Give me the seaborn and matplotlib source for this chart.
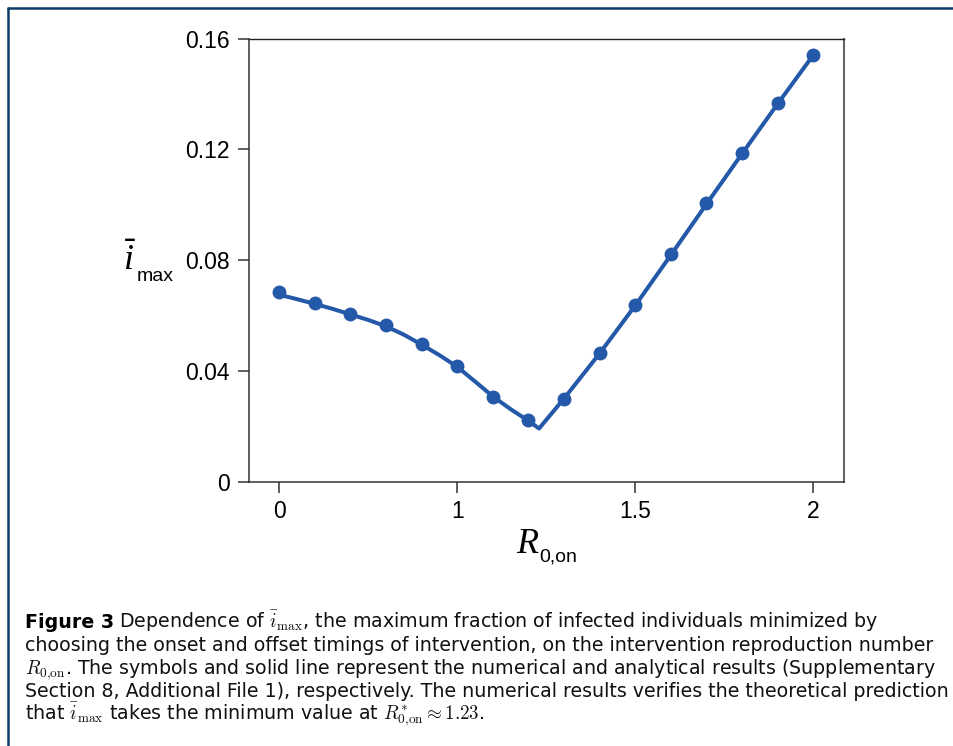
import numpy as np
import pandas as pd
import matplotlib
matplotlib.use("Agg")
import matplotlib.pyplot as plt
from matplotlib.lines import Line2D
import seaborn as sns

# ---- data ----
R_num = [0.0, 0.2, 0.4, 0.6, 0.8, 1.0, 1.1, 1.2, 1.3, 1.4, 1.5, 1.6, 1.7, 1.8, 1.9, 2.0]
i_num = [0.0684, 0.0645, 0.0606, 0.0566, 0.0496, 0.0417, 0.0305, 0.0223, 0.0300,
         0.0465, 0.0638, 0.0822, 0.1005, 0.1187, 0.1366, 0.1542]

R_ana = [0.0, 0.1, 0.2, 0.3, 0.4, 0.5, 0.6, 0.7, 0.8, 0.9, 1.0, 1.05, 1.1, 1.15, 1.2,
         1.23, 1.3, 1.4, 1.5, 1.6, 1.7, 1.8, 1.9, 2.0]
i_ana = [0.0675, 0.0659, 0.0642, 0.0624, 0.0604, 0.0584, 0.0561, 0.0531, 0.0495, 0.0457,
         0.0415, 0.0362, 0.0308, 0.0262, 0.0220, 0.0192, 0.0300, 0.0463, 0.0636, 0.0818,
         0.1002, 0.1184, 0.1364, 0.1540]

x_ticks = [0, 1, 1.5, 2]
x_tick_labels = ["0", "1", "1.5", "2"]
y_ticks = [0, 0.04, 0.08, 0.12, 0.16]
y_tick_labels = ["0", "0.04", "0.08", "0.12", "0.16"]

caption_bold = "Figure 3"
caption_lines = [
    r"Dependence of $\bar{i}_{\max}$, the maximum fraction of infected individuals minimized by",
    r"choosing the onset and offset timings of intervention, on the intervention reproduction number",
    r"$R_{0{,}\mathrm{on}}$. The symbols and solid line represent the numerical and analytical results (Supplementary",
    r"Section 8, Additional File 1), respectively. The numerical results verifies the theoretical prediction",
    r"that $\bar{i}_{\max}$ takes the minimum value at $R^{*}_{0{,}\mathrm{on}} \approx 1.23$.",
]

df_num = pd.DataFrame({"R": R_num, "i": i_num})
df_ana = pd.DataFrame({"R": R_ana, "i": i_ana})

# ---- style ----
sns.set_style("ticks")
plt.rcParams["font.family"] = ["Liberation Sans", "DejaVu Sans"]
plt.rcParams["mathtext.fontset"] = "custom"
plt.rcParams["mathtext.it"] = "Liberation Serif:italic"
plt.rcParams["mathtext.rm"] = "Liberation Sans"
plt.rcParams["mathtext.bf"] = "Liberation Sans:bold"
plt.rcParams["text.color"] = "black"
plt.rcParams["axes.labelcolor"] = "black"

W, H = 954, 746
fig = plt.figure(figsize=(W / 100, H / 100), dpi=100)
fig.patch.set_facecolor("white")

ax_l, ax_r, ax_t, ax_b = 248.7, 844.0, 38.5, 481.7
ax = fig.add_axes([ax_l / W, 1 - ax_b / H, (ax_r - ax_l) / W, (ax_b - ax_t) / H])

blue = "#2458A8"
sns.lineplot(data=df_ana, x="R", y="i", ax=ax, color=blue, linewidth=2.9, sort=True)
sns.lineplot(data=df_num, x="R", y="i", ax=ax, color=blue, linestyle="none",
             marker="o", markersize=10, markeredgewidth=0, sort=False)

# piecewise scale: [0,1] drawn at half the scale of [1,2]
def fwd(r):
    r = np.asarray(r, dtype=float)
    return np.where(r <= 1, r / 2.0, r - 0.5)

def inv(u):
    u = np.asarray(u, dtype=float)
    return np.where(u <= 0.5, u * 2.0, u + 0.5)

ax.set_xscale("function", functions=(fwd, inv))
ax.set_xlim(-0.171, 2.0864)
ax.set_ylim(0, 0.16)
ax.set_xticks(x_ticks)
ax.set_xticklabels(x_tick_labels)
ax.set_yticks(y_ticks)
ax.set_yticklabels(y_tick_labels)
ax.minorticks_off()

ax.tick_params(axis="both", direction="out", length=8, width=1.1, color="#333333",
               labelsize=16.5, labelcolor="black", pad=5.5)
ax.tick_params(top=False, right=False)

for side in ["left", "bottom"]:
    ax.spines[side].set_color("#333333")
    ax.spines[side].set_linewidth(1.1)
ax.spines["top"].set_color("#222222")
ax.spines["top"].set_linewidth(1.0)
ax.spines["right"].set_color("#666666")
ax.spines["right"].set_linewidth(1.5)

def px(x, y):
    """pixel position (from top-left) -> axes fraction"""
    return (x - ax_l) / (ax_r - ax_l), (ax_b - y) / (ax_b - ax_t)

# x label: italic R with sans subscript
ax.set_xlabel(r"$R$", fontsize=26, math_fontfamily="custom", color="black",
              ha="left", va="baseline")
ax.xaxis.set_label_coords(*px(516, 553))
ax.text(*px(539, 562), "0,on", transform=ax.transAxes, fontsize=14,
        family="Liberation Sans", ha="left", va="baseline", color="black")

# y label: italic i-bar with sans subscript
ax.set_ylabel(r"$\bar{i}$", fontsize=26, rotation=0, color="black",
              math_fontfamily="custom", ha="center", va="baseline")
ax.yaxis.set_label_coords(*px(130, 270))
ax.text(*px(137, 281), "max", transform=ax.transAxes, fontsize=14,
        family="Liberation Sans", ha="left", va="baseline", color="black")

# ---- frame of the figure box ----
border = "#0d3b66"
fig.add_artist(Line2D([8 / W, 1.0], [1 - 8 / H, 1 - 8 / H], transform=fig.transFigure,
                      color=border, linewidth=1.8))
fig.add_artist(Line2D([8 / W, 8 / W], [0.0, 1 - 8 / H], transform=fig.transFigure,
                      color=border, linewidth=1.8))

# ---- caption ----
cap_family = "DejaVu Sans"
cap_x = 25
cap_y = [628, 651, 674, 697, 720]  # baselines in px
fig.canvas.draw()
renderer = fig.canvas.get_renderer()

# fit the caption font size so the second line spans the text block width
probe = fig.text(0, 0, caption_lines[1], family=cap_family, fontsize=12, math_fontfamily="cm")
pw = probe.get_window_extent(renderer=renderer).width
probe.remove()
cap_fs = 12 * (930 - cap_x) / pw

tb = fig.text(cap_x / W, 1 - cap_y[0] / H, caption_bold, family=cap_family, fontsize=cap_fs,
              fontweight="bold", color="black", va="baseline", ha="left")
bb = tb.get_window_extent(renderer=renderer)
for k, line in enumerate(caption_lines):
    x0 = (bb.x1 + 5) / W if k == 0 else cap_x / W
    fig.text(x0, 1 - cap_y[k] / H, line, family=cap_family, fontsize=cap_fs, color="#111111",
             va="baseline", ha="left", math_fontfamily="cm")

fig.savefig("out.png", dpi=100, facecolor="white")
